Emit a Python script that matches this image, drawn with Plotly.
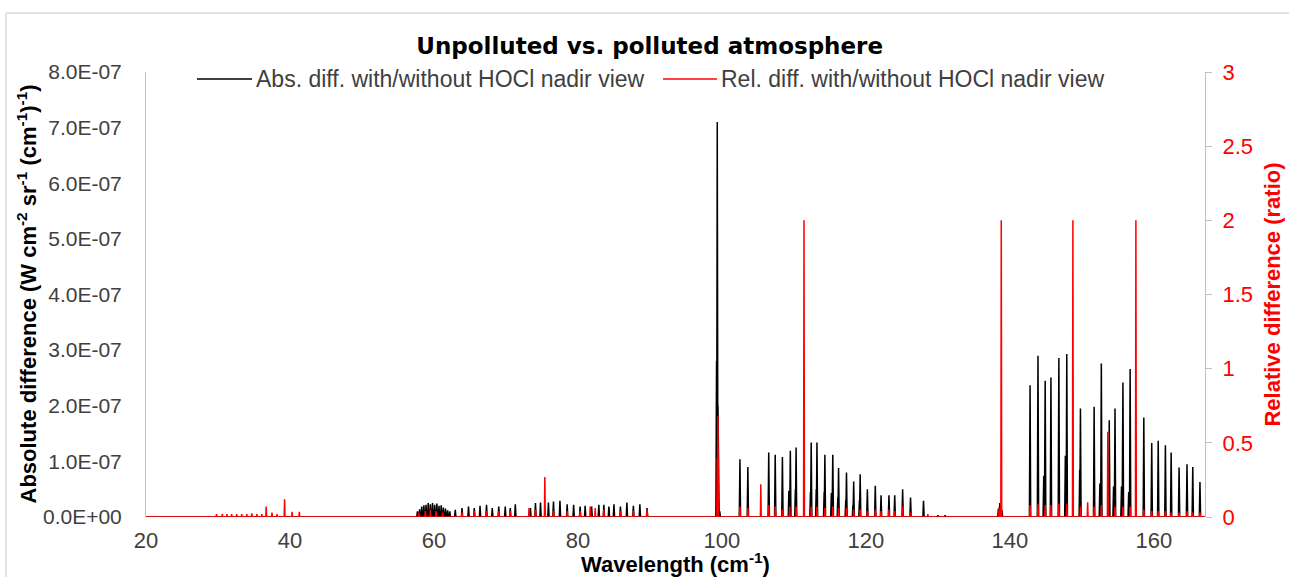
import plotly.graph_objects as go

# ---------------- data ----------------
x_range = [20, 167.1]
x_ticks = [20, 40, 60, 80, 100, 120, 140, 160]
y_ticks = [0, 1e-7, 2e-7, 3e-7, 4e-7, 5e-7, 6e-7, 7e-7, 8e-7]
y_ticktext = ["0.0E+00", "1.0E-07", "2.0E-07", "3.0E-07", "4.0E-07",
              "5.0E-07", "6.0E-07", "7.0E-07", "8.0E-07"]
y2_ticks = [0, 0.5, 1, 1.5, 2, 2.5, 3]
y2_ticktext = ["0", "0.5", "1", "1.5", "2", "2.5", "3"]

# Absolute difference peaks: wavenumber (cm-1) and height (W cm-2 sr-1 (cm-1)-1)
abs_peak_x = [57.7, 58.0, 58.3, 58.6, 58.9, 59.2, 59.5, 59.8, 60.1, 60.4, 60.7, 61.0,
              61.3, 61.6, 61.9, 62.2,
              62.96, 63.9, 64.8, 65.6, 66.4, 67.3, 68.1, 69.0, 69.9, 70.6, 71.3,
              73.4, 74.1, 74.8, 75.9, 76.6, 77.5, 78.5, 79.4, 80.3, 81.0, 81.9,
              82.9, 83.6, 84.3, 85.0, 85.9, 86.8, 87.7, 88.6, 89.6,
              99.25, 99.35, 99.45, 99.7,
              102.5, 103.6, 106.5, 107.4, 108.4, 109.3, 109.5, 110.2, 110.3,
              112.3, 112.4, 113.1, 113.2, 114.2, 114.3, 115.2, 115.4, 116.1, 116.2,
              117.2, 117.3, 118.2, 118.3, 119.1, 119.2, 120.2, 121.3, 122.1,
              123.2, 124.0, 125.1, 126.2, 128.0, 130.0, 131.0,
              138.4, 138.6, 138.9,
              142.8, 143.9, 144.7, 144.9, 145.7, 146.8, 147.7, 147.9, 149.7, 149.8,
              151.7, 152.5, 152.7, 153.8, 154.4, 154.6, 155.5, 155.7, 156.5, 156.7,
              158.6, 159.7, 160.6, 161.6, 162.4, 163.5, 164.6, 165.4, 166.4]
abs_peak_y = [0.10e-7, 0.14e-7, 0.19e-7, 0.21e-7, 0.22e-7, 0.25e-7, 0.23e-7, 0.25e-7,
              0.22e-7, 0.24e-7, 0.20e-7, 0.21e-7, 0.17e-7, 0.15e-7, 0.12e-7, 0.10e-7,
              0.13e-7, 0.16e-7, 0.19e-7, 0.16e-7, 0.20e-7, 0.22e-7, 0.16e-7, 0.19e-7,
              0.19e-7, 0.16e-7, 0.23e-7,
              0.16e-7, 0.25e-7, 0.26e-7, 0.26e-7, 0.28e-7, 0.29e-7, 0.23e-7, 0.22e-7,
              0.19e-7, 0.20e-7, 0.19e-7, 0.22e-7, 0.22e-7, 0.19e-7, 0.23e-7, 0.19e-7,
              0.26e-7, 0.20e-7, 0.23e-7, 0.16e-7,
              2.8e-7, 7.1e-7, 2.0e-7, 0.1e-7,
              1.04e-7, 0.90e-7, 1.16e-7, 1.12e-7, 1.08e-7, 0.47e-7, 1.19e-7, 0.50e-7,
              1.25e-7,
              0.45e-7, 1.34e-7, 0.50e-7, 1.34e-7, 0.45e-7, 1.12e-7, 0.43e-7, 1.12e-7,
              0.35e-7, 0.88e-7,
              0.30e-7, 0.80e-7, 0.22e-7, 0.64e-7, 0.30e-7, 0.77e-7, 0.50e-7, 0.56e-7,
              0.39e-7,
              0.39e-7, 0.39e-7, 0.50e-7, 0.35e-7, 0.29e-7, 0.03e-7, 0.03e-7,
              0.15e-7, 0.25e-7, 0.12e-7,
              2.37e-7, 2.90e-7, 0.74e-7, 2.45e-7, 2.51e-7, 2.86e-7, 1.10e-7, 2.93e-7,
              0.85e-7, 1.95e-7,
              1.98e-7, 0.60e-7, 2.76e-7, 1.74e-7, 0.55e-7, 1.95e-7, 0.55e-7, 2.42e-7,
              0.45e-7, 2.66e-7,
              1.79e-7, 1.33e-7, 1.37e-7, 1.29e-7, 1.16e-7, 0.89e-7, 0.95e-7, 0.90e-7,
              0.63e-7]

# Relative difference peaks: wavenumber (cm-1) and ratio
rel_peak_x = [29.8, 30.6, 31.25, 31.9, 32.6, 33.3, 34.0, 34.7, 35.4, 36.1, 36.7, 37.5,
              38.2, 39.25, 40.3, 41.3,
              57.9, 58.8, 59.5, 60.3, 61.2, 63.9, 65.6, 67.3, 69.0, 70.6, 73.2, 74.1,
              75.4, 76.6, 78.5, 80.3, 81.7, 82.4, 83.6, 85.9, 87.7, 89.6,
              99.35, 99.45,
              102.5, 103.6, 105.4, 106.5, 107.4, 108.4, 109.4, 110.3, 111.4, 112.4,
              113.2, 114.3, 115.4, 116.2, 117.3, 118.3, 119.2, 120.2, 121.3, 122.1,
              123.2, 124.0, 125.1, 126.2, 128.6,
              138.5, 138.8,
              142.8, 143.9, 144.9, 145.7, 146.8, 147.9, 148.75, 149.8, 150.8, 151.7,
              152.7, 153.6, 154.6, 155.7, 156.7, 157.5, 158.6, 159.7, 160.6, 161.6,
              162.4, 163.5, 164.6, 165.4, 166.4]
rel_peak_y = [0.02, 0.02, 0.02, 0.02, 0.02, 0.02, 0.02, 0.025, 0.02, 0.02, 0.07, 0.03,
              0.02, 0.12, 0.035, 0.035,
              0.03, 0.04, 0.05, 0.04, 0.03, 0.03, 0.04, 0.04, 0.04, 0.04, 0.06, 0.05,
              0.27, 0.04, 0.04, 0.04, 0.07, 0.06, 0.05, 0.04, 0.04, 0.05,
              0.40, 0.68,
              0.07, 0.06, 0.22, 0.08, 0.07, 0.05, 0.07, 0.07, 2.0, 0.07,
              0.07, 0.06, 0.07, 0.06, 0.06, 0.05, 0.05, 0.04, 0.05, 0.04,
              0.05, 0.04, 0.07, 0.03, 0.02,
              0.06, 2.0,
              0.08, 0.09, 0.08, 0.08, 0.09, 0.09, 2.0, 0.07, 0.10, 0.07,
              0.08, 0.575, 0.07, 0.07, 0.07, 2.0, 0.05, 0.04, 0.04, 0.04,
              0.03, 0.03, 0.04, 0.03, 0.03]

abs_name = "Abs. diff. with/without HOCl nadir view"
rel_name = "Rel. diff. with/without HOCl nadir view"
title_text = "Unpolluted vs. polluted atmosphere"
x_title = "Wavelength (cm<sup>-1</sup>)"
y_title = "Absolute difference (W cm<sup>-2</sup> sr<sup>-1</sup> (cm<sup>-1</sup>)<sup>-1</sup>)"
y2_title = "Relative difference (ratio)"


def stick_line(px, py, half_width, x0, x1):
    """Turn a peak list into a stick spectrum on a zero baseline."""
    xs, ys = [x0], [0]
    for c, h in sorted(zip(px, py)):
        xs += [c - half_width, c, c + half_width]
        ys += [0, h, 0]
    xs.append(x1)
    ys.append(0)
    return xs, ys


ax, ay = stick_line(abs_peak_x, abs_peak_y, 0.09, x_range[0], x_range[1])
rx, ry = stick_line(rel_peak_x, rel_peak_y, 0.06, x_range[0], x_range[1])

FONT = "Liberation Sans, Arial, sans-serif"
GREY = "#404040"
RED = "#ff0000"

# plot area in pixels (for placing the hand-made legend / frame)
L, R, T, B = 146, 84, 72, 60
W, H = 1289, 577
PW, PH = W - L - R, H - T - B


def px2paper_x(px):
    return (px - L) / PW


def px2paper_y(py):
    return (H - B - py) / PH


fig = go.Figure()
fig.add_trace(go.Scatter(x=ax, y=ay, mode="lines", name=abs_name,
                         line=dict(color="#000000", width=1.5), yaxis="y",
                         showlegend=False))
fig.add_trace(go.Scatter(x=rx, y=ry, mode="lines", name=rel_name,
                         line=dict(color=RED, width=1.5), yaxis="y2",
                         showlegend=False))

legend_y = px2paper_y(79)
shapes = [
    # chart frame (top and left edges visible in the picture)
    dict(type="line", xref="paper", yref="paper", x0=px2paper_x(6), x1=px2paper_x(1300),
         y0=px2paper_y(13), y1=px2paper_y(13), line=dict(color="#d9d9d9", width=1.5)),
    dict(type="line", xref="paper", yref="paper", x0=px2paper_x(6), x1=px2paper_x(6),
         y0=px2paper_y(13), y1=px2paper_y(590), line=dict(color="#d9d9d9", width=1.5)),
    # legend keys
    dict(type="line", xref="paper", yref="paper", x0=px2paper_x(197), x1=px2paper_x(252),
         y0=legend_y, y1=legend_y, line=dict(color="#000000", width=1.5)),
    dict(type="line", xref="paper", yref="paper", x0=px2paper_x(663), x1=px2paper_x(717),
         y0=legend_y, y1=legend_y, line=dict(color=RED, width=1.5)),
]
annotations = [
    dict(text=abs_name, xref="paper", yref="paper", x=px2paper_x(254), y=legend_y,
         xanchor="left", yanchor="middle", showarrow=False,
         font=dict(family=FONT, size=23, color=GREY)),
    dict(text=rel_name, xref="paper", yref="paper", x=px2paper_x(719), y=legend_y,
         xanchor="left", yanchor="middle", showarrow=False,
         font=dict(family=FONT, size=23, color=GREY)),
    dict(text="<b>" + y_title + "</b>", xref="paper", yref="paper",
         x=px2paper_x(26), y=0.5, xanchor="center", yanchor="middle",
         textangle=-90, showarrow=False,
         font=dict(family=FONT, size=22, color="#000000")),
    dict(text="<b>" + x_title + "</b>", xref="paper", yref="paper",
         x=px2paper_x(675), y=px2paper_y(563), xanchor="center", yanchor="middle",
         showarrow=False, font=dict(family=FONT, size=22, color="#000000")),
]

fig.update_layout(
    width=W, height=H,
    margin=dict(l=L, r=R, t=T, b=B, autoexpand=False),
    paper_bgcolor="white", plot_bgcolor="white",
    font=dict(family=FONT, color=GREY, size=22),
    title=dict(text="<b>" + title_text + "</b>", x=0.504, xanchor="center",
               xref="container", y=1 - 46 / 577, yanchor="middle", yref="container",
               font=dict(family="DejaVu Sans, Liberation Sans, sans-serif", size=23,
                         color="#000000")),
    showlegend=False,
    xaxis=dict(range=x_range, tickvals=x_ticks, showgrid=False, zeroline=False,
               showline=False, ticks="", tickfont=dict(size=22, color=GREY),
               ticklabelstandoff=8, automargin=False),
    yaxis=dict(range=[0, 8e-7], tickvals=y_ticks, ticktext=y_ticktext,
               showgrid=False, zeroline=False, showline=True, linecolor="#bfbfbf",
               linewidth=1, ticks="", tickfont=dict(size=21, color=GREY),
               ticklabelstandoff=19, automargin=False),
    yaxis2=dict(range=[0, 3], tickvals=y2_ticks, ticktext=y2_ticktext,
                overlaying="y", side="right", showgrid=False, zeroline=False,
                showline=True, linecolor="#bfbfbf", linewidth=1,
                ticks="outside", ticklen=6, tickcolor="#bfbfbf",
                tickfont=dict(size=22, color=RED), ticklabelstandoff=6,
                automargin=False,
                title=dict(text="<b>" + y2_title + "</b>", standoff=12,
                           font=dict(size=22, color=RED))),
    shapes=shapes,
    annotations=annotations,
)

fig.write_html("out.html")
